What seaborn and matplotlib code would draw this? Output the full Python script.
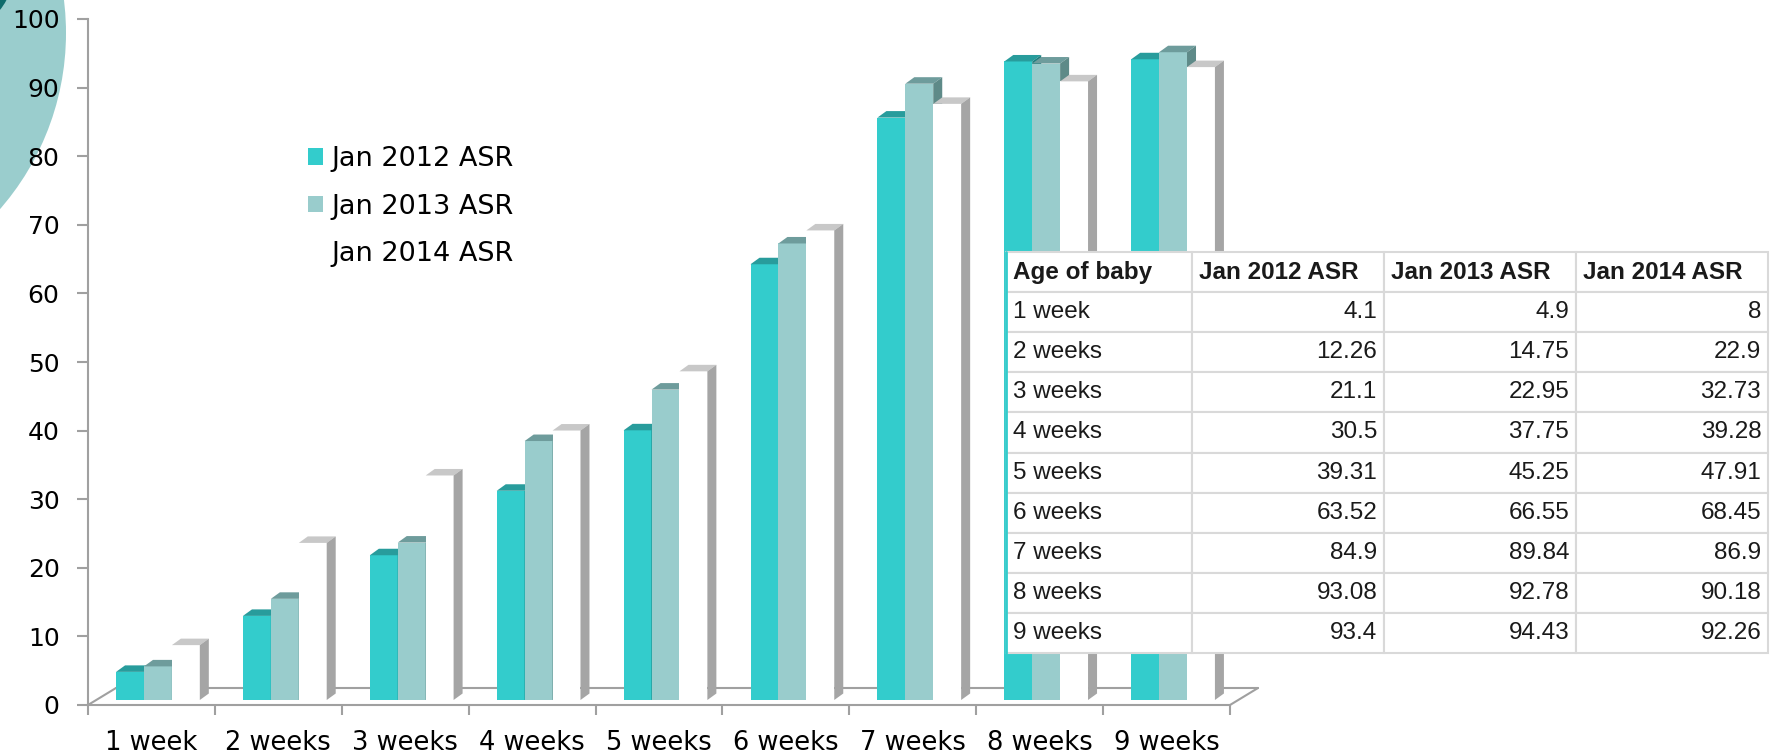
import numpy as np
import pandas as pd
import matplotlib
matplotlib.use("Agg")
import matplotlib.pyplot as plt
import seaborn as sns
from matplotlib.patches import Polygon, Patch, Ellipse
from matplotlib.lines import Line2D

# ---------------- data ----------------
ages = ["1 week", "2 weeks", "3 weeks", "4 weeks", "5 weeks",
        "6 weeks", "7 weeks", "8 weeks", "9 weeks"]
series_names = ["Jan 2012 ASR", "Jan 2013 ASR", "Jan 2014 ASR"]
asr_2012 = [4.1, 12.26, 21.1, 30.5, 39.31, 63.52, 84.9, 93.08, 93.4]
asr_2013 = [4.9, 14.75, 22.95, 37.75, 45.25, 66.55, 89.84, 92.78, 94.43]
asr_2014 = [8, 22.9, 32.73, 39.28, 47.91, 68.45, 86.9, 90.18, 92.26]
yticks = list(range(0, 101, 10))
table_header = ["Age of baby", "Jan 2012 ASR", "Jan 2013 ASR", "Jan 2014 ASR"]

# ---------------- style ----------------
front_cols = ["#33CCCC", "#99CCCC", "#FFFFFF"]
top_cols = ["#289C9C", "#6E9C9C", "#C8C8C8"]
side_cols = ["#1F7F7F", "#5E8A88", "#A5A5A5"]
axis_col = "#A0A0A0"

sns.set_style("white")
plt.rcParams["font.family"] = ["DejaVu Sans"]

W, H = 1772, 755
fig = plt.figure(figsize=(W / 100, H / 100), dpi=100)

# decorative circles (top-left)
fig.patches.append(Ellipse(((-202) / W, 1 - 33 / H), 2 * 268 / W, 2 * 268 / H,
                           transform=fig.transFigure, facecolor="#9ACDCD",
                           edgecolor="none", zorder=-5))
fig.patches.append(Ellipse(((-50) / W, 1 + 30 / H), 2 * 64 / W, 2 * 64 / H,
                           transform=fig.transFigure, facecolor="#0E6B6B",
                           edgecolor="none", zorder=-4))

ax_left, ax_right, ax_top, ax_bot = 88, 1230, 19, 705
ax = fig.add_axes([ax_left / W, (H - ax_bot) / H,
                   (ax_right - ax_left) / W, (ax_bot - ax_top) / H])
ax.patch.set_alpha(0)

df = pd.DataFrame({
    "Age": ages * 3,
    "Series": [s for s in series_names for _ in ages],
    "Value": asr_2012 + asr_2013 + asr_2014,
})
sns.barplot(data=df, x="Age", y="Value", hue="Series", order=ages,
            hue_order=series_names, palette=front_cols, saturation=1,
            width=0.66, edgecolor="none", linewidth=0, legend=False, ax=ax)

ax.set_xlim(-0.5, 8.5)
ax.set_ylim(0, 100)
fig.canvas.draw()
o = ax.transData.transform((0, 0))
sx = ax.transData.transform((1, 0))[0] - o[0]
sy = ax.transData.transform((0, 1))[1] - o[1]

dx = 9 / sx
dy = 6.5 / sy
base = 5 / sy
xshift = 6.5 / sx

bars = [p for p in ax.patches]
for k, p in enumerate(bars):
    i = k // len(ages)
    z = 3 + i
    x0 = p.get_x() + xshift
    w = p.get_width()
    h = p.get_height()
    p.set_x(x0)
    p.set_y(base)
    p.set_zorder(z)
    top = base + h
    ax.add_patch(Polygon([(x0, top), (x0 + w, top), (x0 + w + dx, top + dy),
                          (x0 + dx, top + dy)], closed=True,
                         facecolor=top_cols[i], edgecolor="none", zorder=z))
    ax.add_patch(Polygon([(x0 + w, base), (x0 + w, top), (x0 + w + dx, top + dy),
                          (x0 + w + dx, base + dy)], closed=True,
                         facecolor=side_cols[i], edgecolor="none", zorder=z))

# 3D floor
fdx = 28 / sx
fdy = 17 / sy
ax.add_line(Line2D([-0.5 + fdx, 8.5 + fdx], [fdy, fdy], color=axis_col, lw=1.5,
                   zorder=1, clip_on=False))
ax.add_line(Line2D([-0.5, -0.5 + fdx], [0, fdy], color=axis_col, lw=1.5,
                   zorder=1, clip_on=False))
ax.add_line(Line2D([8.5, 8.5 + fdx], [0, fdy], color=axis_col, lw=1.5,
                   zorder=1, clip_on=False))

for s in ["top", "right"]:
    ax.spines[s].set_visible(False)
for s in ["left", "bottom"]:
    ax.spines[s].set_color(axis_col)
    ax.spines[s].set_linewidth(1.5)

ax.set_yticks(yticks)
ax.set_yticklabels([str(t) for t in yticks], fontsize=18)
ax.set_xticks(np.arange(-0.5, 9.0, 1.0))
ax.set_xticklabels([])
ax.set_xticks(np.arange(len(ages)), minor=True)
ax.set_xticklabels(ages, minor=True, fontsize=18.5)
ax.tick_params(axis="y", length=8, width=1.5, color=axis_col, pad=12.5, left=True,
               labelcolor="black")
ax.tick_params(axis="x", which="major", length=7, width=1.5, color=axis_col,
               bottom=True, direction="out")
ax.tick_params(axis="x", which="minor", length=0, pad=18, labelcolor="black")
ax.set_xlabel("")
ax.set_ylabel("")

# legend
handles = [Patch(facecolor=c, edgecolor="none") for c in front_cols]
leg = ax.legend(handles, series_names, loc="upper left",
                bbox_to_anchor=(308 / W, 1 - 146 / H), bbox_transform=fig.transFigure,
                frameon=False, fontsize=19.5, handlelength=0.55, handleheight=0.55,
                handletextpad=0.3, labelspacing=0.8, borderaxespad=0, borderpad=0)
for t in leg.get_texts():
    t.set_color("black")

# table
tx0, tx1, ty0, ty1 = 1006, 1768, 252, 653
tax = fig.add_axes([tx0 / W, (H - ty1) / H, (tx1 - tx0) / W, (ty1 - ty0) / H])
tax.axis("off")
tax.set_zorder(10)
cell_text = [[a, f"{v1:g}", f"{v2:g}", f"{v3:g}"]
             for a, v1, v2, v3 in zip(ages, asr_2012, asr_2013, asr_2014)]
cw = [186, 192, 192, 192]
tbl = tax.table(cellText=cell_text, colLabels=table_header, cellLoc="right",
                colWidths=[c / sum(cw) for c in cw], bbox=[0, 0, 1, 1])
tbl.auto_set_font_size(False)
for (r, c), cell in tbl.get_celld().items():
    cell.set_edgecolor("#D9D9D9")
    cell.set_linewidth(1.5)
    cell.set_facecolor("white")
    cell.PAD = 0.035
    txt = cell.get_text()
    txt.set_fontfamily(["Liberation Sans", "DejaVu Sans"])
    txt.set_fontsize(17.5)
    txt.set_color("#1A1A1A")
    if r == 0:
        txt.set_fontweight("bold")
        txt.set_horizontalalignment("left")
        cell._loc = "left"
    elif c == 0:
        txt.set_horizontalalignment("left")
        cell._loc = "left"
tax.add_line(Line2D([0, 0], [0, 1], transform=tax.transAxes, color="#33CCCC",
                    lw=2, zorder=20, clip_on=False))

fig.savefig("out.png", dpi=100)
